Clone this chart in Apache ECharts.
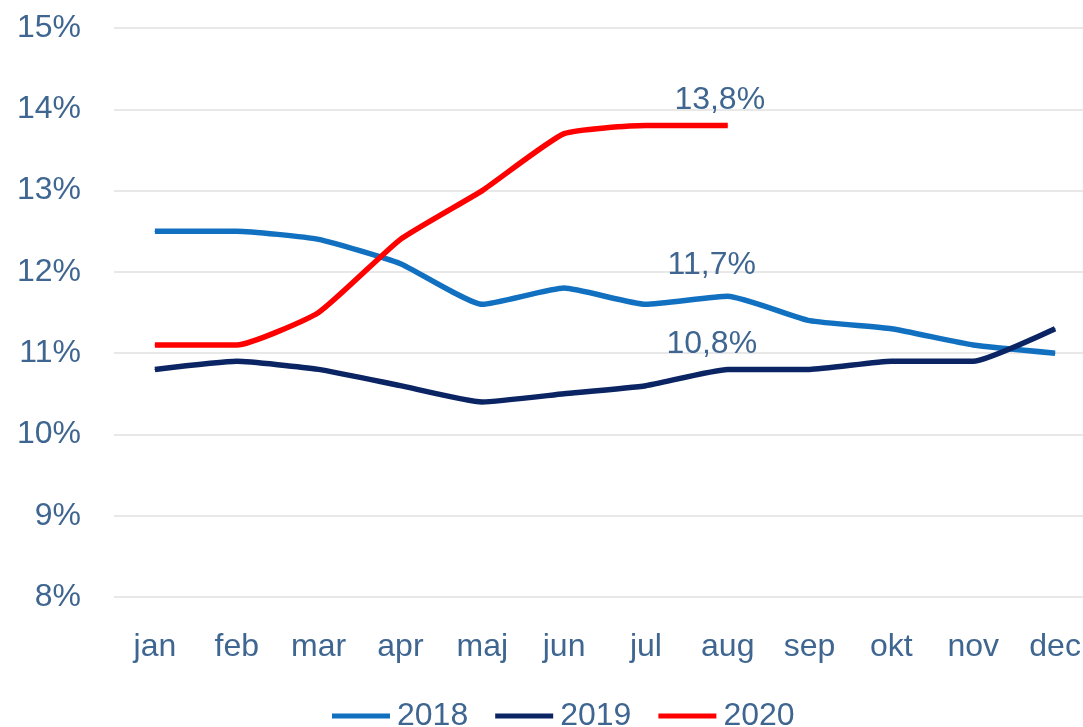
<!DOCTYPE html>
<html><head><meta charset="utf-8">
<script src="https://cdn.jsdelivr.net/npm/echarts@6/dist/echarts.min.js"></script>
<style>html,body{margin:0;padding:0;background:#fff}#c{width:1083px;height:727px}</style>
</head><body><div id="c"></div>
<script>
const months = ['jan','feb','mar','apr','maj','jun','jul','aug','sep','okt','nov','dec'];
const s2018 = [12.5,12.5,12.4,12.1,11.6,11.8,11.6,11.7,11.4,11.3,11.1,11.0];
const s2019 = [10.8,10.9,10.8,10.6,10.4,10.5,10.6,10.8,10.8,10.9,10.9,11.3];
const s2020 = [11.1,11.1,11.5,12.4,13.0,13.7,13.8,13.8];
const labelIndex = 7; // aug
const txt = '#3f6690';
const font = 'Liberation Sans';

function withLabel(arr, dist, dx) {
  return arr.map((v, i) => i === labelIndex ? {
    value: v,
    label: { show: true, position: 'top', distance: dist, offset: [dx, 0],
      formatter: p => p.value.toFixed(1).replace('.', ',') + '%',
      color: txt, fontSize: 32, fontFamily: font }
  } : v);
}

function line(name, data, color) {
  return { name, type: 'line', data, symbol: 'circle', symbolSize: 1, showSymbol: true,
    smooth: 0.15, label: { show: false },
    lineStyle: { color, width: 5.5 }, itemStyle: { color } };
}

const chart = echarts.init(document.getElementById('c'));
chart.setOption({
  animation: false,
  grid: { left: 114, width: 982, top: 28, bottom: 130, outerBoundsMode: 'none', containLabel: false },
  legend: {
    bottom: -10, left: 327,
    icon: 'rect',
    itemWidth: 58, itemHeight: 5, itemGap: 27,
    textStyle: { color: txt, fontSize: 32, fontFamily: font, padding: [0,0,0,2] },
    data: ['2018','2019','2020']
  },
  xAxis: {
    type: 'category', data: months, boundaryGap: true,
    axisLine: { show: false }, axisTick: { show: false },
    axisLabel: { color: txt, fontSize: 32, fontFamily: font, margin: 34, interval: 0 }
  },
  yAxis: {
    type: 'value', min: 8, max: 15, interval: 1,
    axisLine: { show: false }, axisTick: { show: false },
    axisLabel: { color: txt, fontSize: 32, fontFamily: font, margin: 33, formatter: '{value}%' },
    splitLine: { lineStyle: { color: '#e8e8e8', width: 2 } }
  },
  series: [
    line('2018', withLabel(s2018, 15, -16), '#1170c0'),
    line('2019', withLabel(s2019, 9, -16), '#0b2463'),
    line('2020', withLabel(s2020, 9, -8), '#ff0000')
  ]
});
</script></body></html>
